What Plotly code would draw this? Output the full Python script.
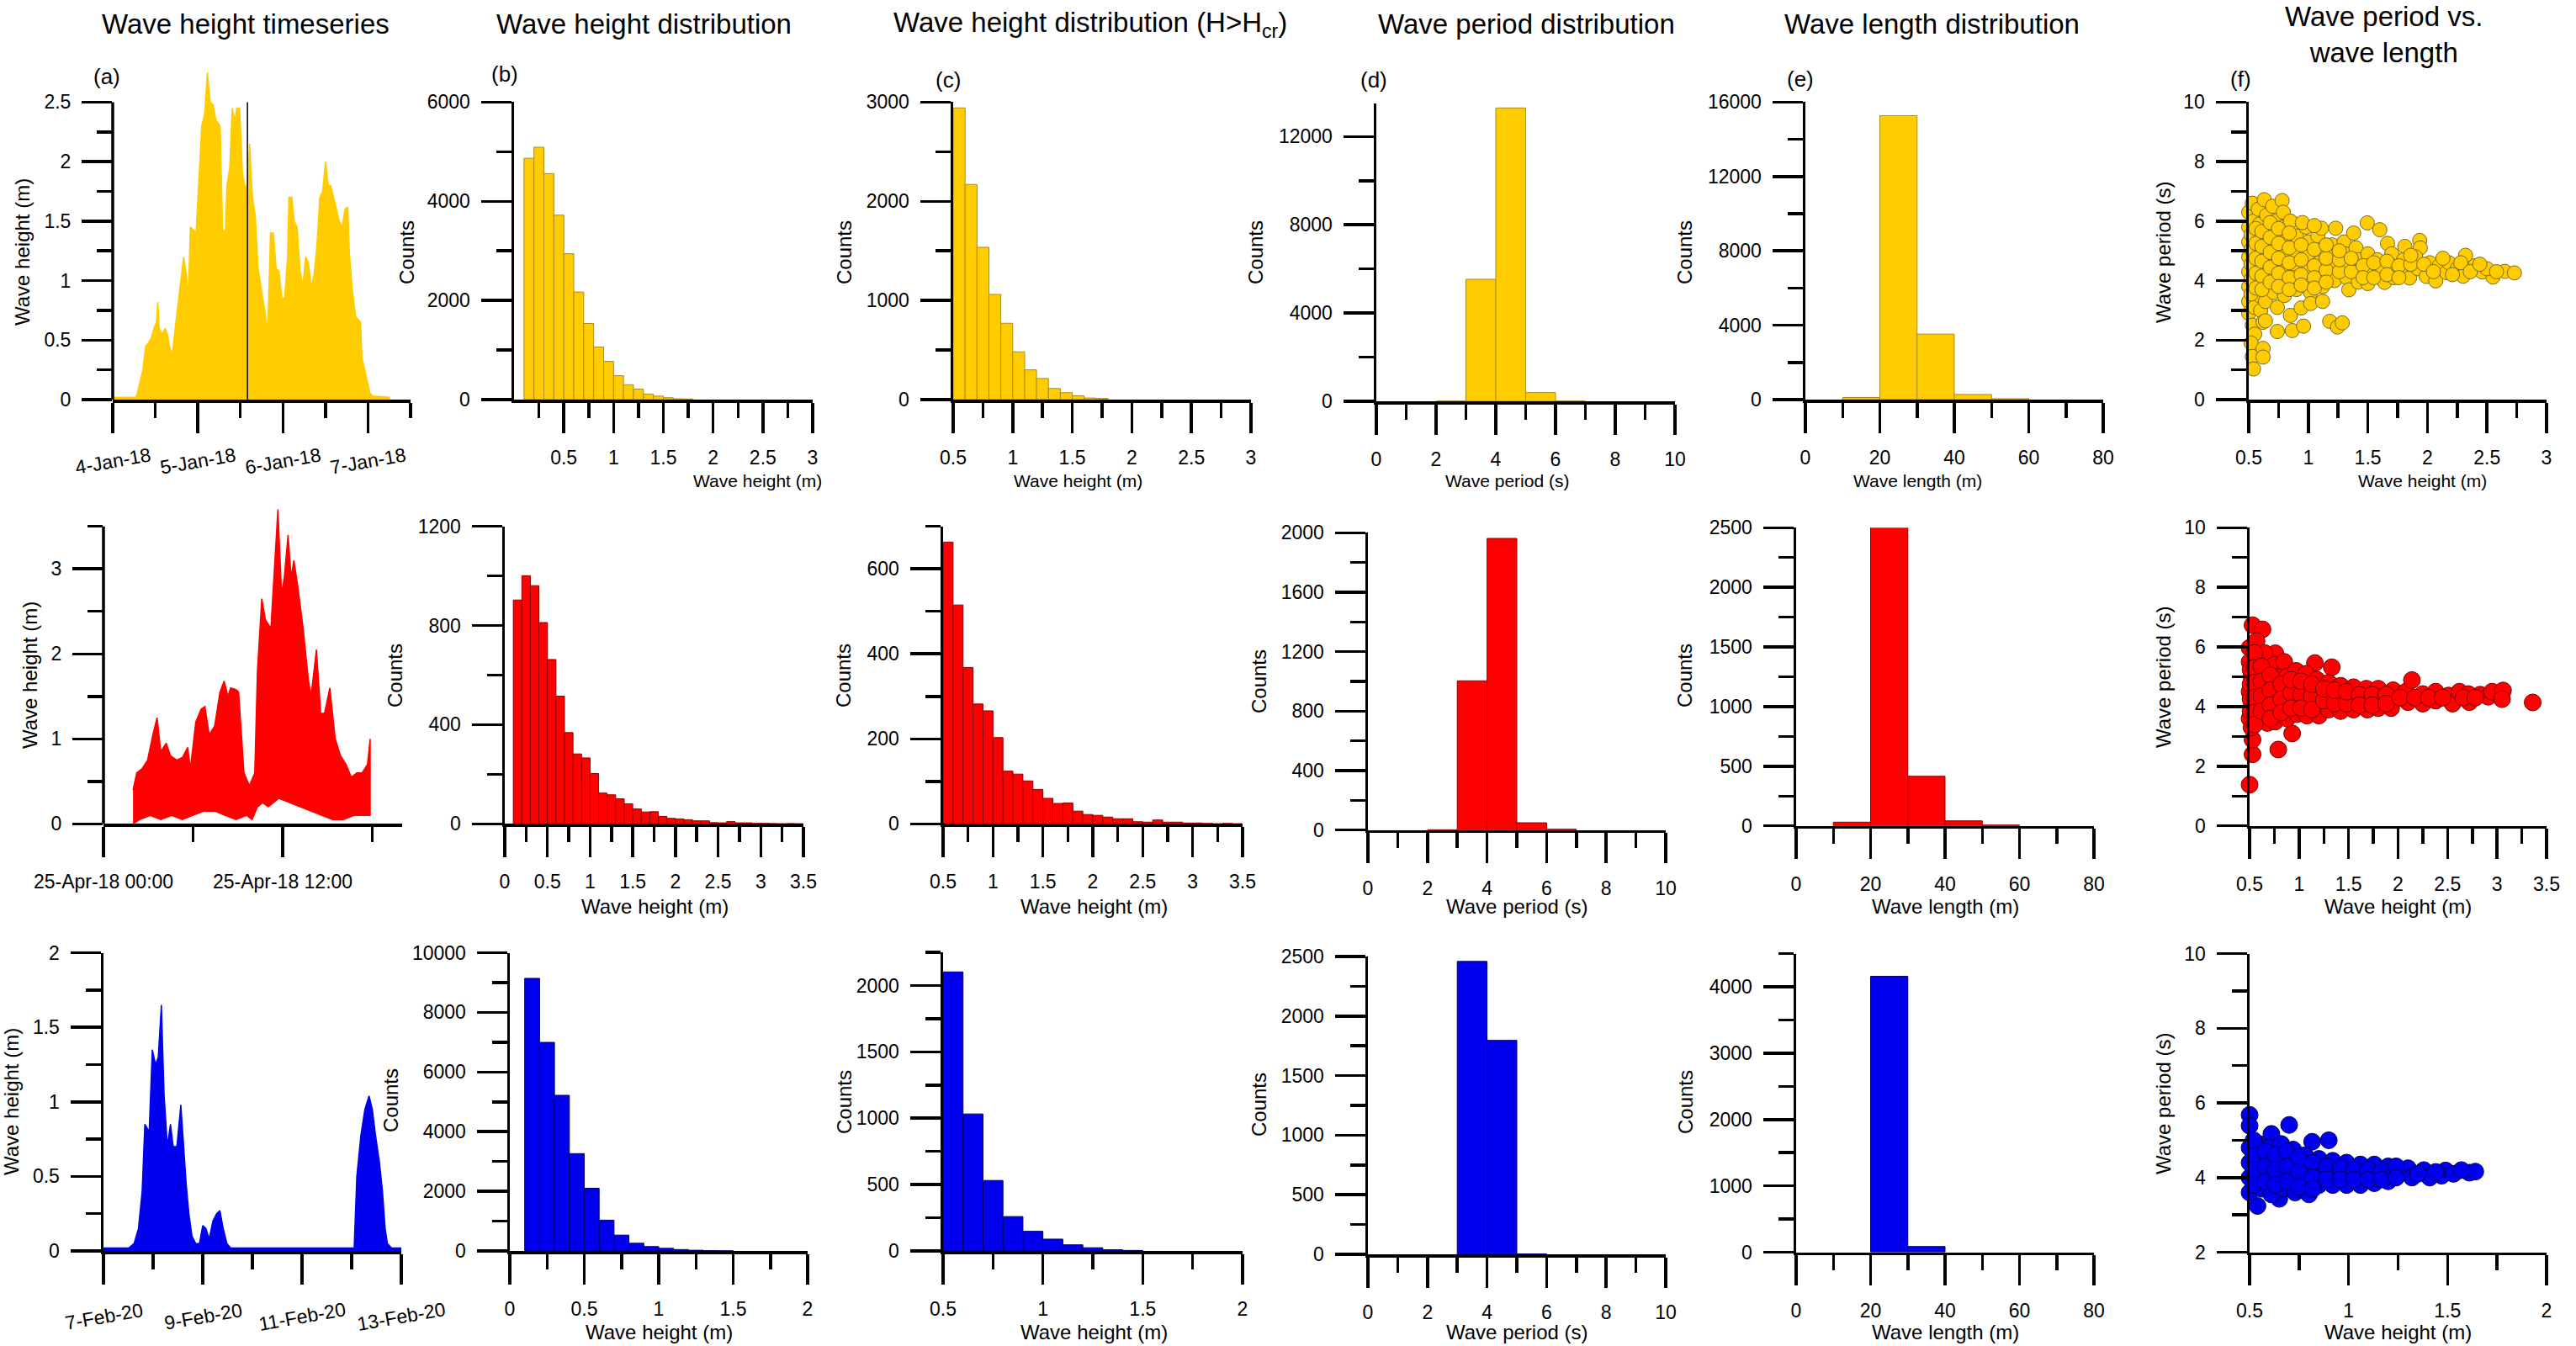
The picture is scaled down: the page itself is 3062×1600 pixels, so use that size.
import plotly.graph_objects as go
import pandas as pd

W, H = 3062, 1600
FONT = "Liberation Sans, Arial, Helvetica, sans-serif"
GOLD, GOLD_EDGE = "#FFCC00", "#A88C20"
RED, RED_EDGE = "#FF0000", "#8B0000"
BLUE, BLUE_EDGE = "#0000EE", "#000060"

# ---------------- Row 1 : January 2018 ----------------
ts1_start = "2018-01-04 00:00:00"
ts1_hours = [0, 6.5, 6.9, 7.7, 8.5, 9.3, 9.9, 10.9, 11.6, 12.3,
             12.7, 13.1, 14.0, 14.8, 15.4, 16.0, 16.8, 17.6, 18.4, 19.2,
             20.0, 20.8, 21.3, 21.9, 22.7, 23.5, 24.3, 25.1, 25.9, 26.7,
             27.5, 28.3, 29.1, 30.3, 31.0, 31.8, 32.2, 33.0, 33.7, 34.5,
             35.0, 35.8, 36.6, 37.4, 38.0, 38.6, 39.4, 40.2, 41.0, 42.1,
             42.9, 43.7, 44.1, 44.5, 45.3, 46.1, 46.9, 47.7, 48.5, 49.3,
             49.7, 50.5, 51.2, 52.0, 52.8, 53.6, 54.4, 55.2, 56.0, 56.8,
             57.6, 58.4, 59.2, 60.0, 60.8, 61.5, 62.3, 63.1, 63.9, 64.7,
             65.5, 66.3, 66.7, 67.5, 68.5, 69.9, 70.3, 71.1, 71.8, 72.6,
             73.4, 78.2]
ts1_height = [0.02, 0.02, 0.05, 0.15, 0.25, 0.45, 0.47, 0.52, 0.60, 0.65,
              0.82, 0.60, 0.55, 0.60, 0.55, 0.45, 0.38, 0.60, 0.80, 1.00,
              1.20, 1.05, 0.85, 1.45, 1.43, 1.40, 1.85, 2.30, 2.40, 2.75,
              2.50, 2.48, 2.35, 2.30, 1.42, 1.42, 1.80, 1.95, 2.45, 2.35,
              2.45, 2.45, 1.90, 1.78, 1.80, 2.15, 1.70, 1.55, 1.10, 0.90,
              0.75, 0.55, 0.90, 1.40, 1.40, 1.10, 1.08, 0.85, 0.85, 1.20,
              1.70, 1.70, 1.50, 1.45, 1.10, 0.95, 1.20, 1.15, 0.95, 1.05,
              1.30, 1.70, 1.75, 2.00, 1.80, 1.80, 1.70, 1.60, 1.50, 1.45,
              1.60, 1.62, 1.25, 0.95, 0.70, 0.65, 0.35, 0.25, 0.15, 0.05,
              0.03, 0.02]
ts1_marker_hour = 38.0
ts1_span_hours = 84
ts1_tick_days = [0, 1, 2, 3]

hist1_height_start, hist1_height_bin = 0.1, 0.1
hist1_height = [4867, 5091, 4558, 3721, 2942, 2170, 1536, 1061, 770, 482,
                300, 213, 112, 70, 38, 16, 12]
hist1_hcr_start = 0.5
hist1_hcr = [2942, 2170, 1536, 1061, 770, 482, 300, 213, 112, 70, 38, 16, 12]
hist1_period_start, hist1_period_bin = 2, 1
hist1_period = [10, 5531, 13297, 395, 10]
hist1_length_start, hist1_length_bin = 10, 10
hist1_length = [113, 15273, 3523, 275, 48]

f1_height = [0.50, 0.50, 0.50, 0.50, 0.50, 0.50, 0.50, 0.50,
             0.53, 0.54, 0.53, 0.54, 0.53, 0.54, 0.53, 0.55, 0.53, 0.55,
             0.52, 0.53, 0.54, 0.58, 0.59, 0.58, 0.60, 0.58, 0.60, 0.59,
             0.60, 0.62, 0.62, 0.62, 0.63, 0.65, 0.66, 0.65, 0.66, 0.65,
             0.66, 0.64, 0.64, 0.70, 0.72, 0.71, 0.72, 0.70, 0.72, 0.71,
             0.74, 0.74, 0.78, 0.79, 0.78, 0.80, 0.79, 0.80, 0.78, 0.80,
             0.85, 0.865, 0.88, 0.90, 0.89, 0.90, 0.88, 0.90, 0.94, 0.96,
             0.98, 1.00, 0.99, 1.00, 1.00, 1.02, 1.02, 1.08, 1.11, 1.10,
             1.09, 1.10, 1.12, 1.12, 1.18, 1.20, 1.23, 1.21, 1.20, 1.22,
             1.245, 1.285, 1.30, 1.31, 1.30, 1.32, 1.34, 1.38, 1.40, 1.42,
             1.40, 1.42, 1.495, 1.50, 1.51, 1.51, 1.50, 1.60, 1.58, 1.60,
             1.64, 1.665, 1.70, 1.70, 1.72, 1.81, 1.80, 1.79, 1.85, 1.935,
             1.94, 1.90, 1.92, 1.99, 2.07, 2.02, 2.10, 2.16, 2.18, 2.25,
             2.32, 2.32, 2.30, 2.40, 2.46, 2.55, 2.50, 2.65, 2.73,
             0.85, 0.95, 1.05,
             0.52, 0.52, 0.52, 0.52, 0.52, 0.56, 0.56, 0.56, 0.56, 0.56,
             0.61, 0.61, 0.61, 0.61, 0.61, 0.68, 0.68, 0.68, 0.68, 0.68,
             0.75, 0.75, 0.75, 0.75, 0.75, 0.84, 0.84, 0.84, 0.84, 0.84,
             0.94, 0.94, 0.94, 0.94, 1.05, 1.05, 1.05, 1.05, 1.15, 1.15,
             1.15, 1.15, 1.26, 1.26, 1.26, 1.36, 1.36, 1.46, 1.46, 1.55,
             1.55, 1.66, 1.66, 1.76, 1.76, 1.86, 1.86, 1.97, 2.05, 2.13,
             2.21, 2.28, 2.36, 2.44, 2.58]
f1_period = [6.3, 5.8, 5.3, 4.8, 4.3, 3.8, 3.3, 2.9,
             6.6, 6.0, 5.5, 5.0, 4.5, 4.0, 3.6, 3.1, 2.5, 2.2,
             1.9, 1.45, 1.03, 6.4, 5.9, 5.4, 4.9, 4.4, 3.9, 3.5,
             3.0, 2.6, 1.72, 1.43, 6.72, 6.2, 5.7, 5.2, 4.7, 4.2,
             3.7, 3.3, 2.65, 6.5, 6.0, 5.5, 5.0, 4.5, 4.0, 3.6,
             3.1, 2.29, 6.69, 6.3, 5.8, 5.3, 4.8, 4.3, 3.9, 3.5,
             2.83, 2.32, 5.9, 5.5, 5.0, 4.5, 4.1, 3.7, 3.08, 2.47,
             5.8, 5.3, 4.8, 4.4, 3.99, 3.6, 3.23, 5.5, 5.76, 5.0,
             4.6, 4.2, 3.8, 3.3, 2.63, 5.2, 5.76, 4.8, 4.4, 4.0,
             2.44, 2.58, 5.3, 4.9, 4.5, 4.1, 3.69, 5.6, 5.1, 4.7,
             4.3, 3.95, 5.94, 4.9, 4.5, 4.22, 3.9, 5.71, 4.7, 4.35,
             3.94, 5.25, 4.9, 4.5, 4.1, 5.15, 4.7, 4.3, 4.09, 5.35,
             5.1, 4.8, 4.4, 4.14, 3.99, 4.6, 4.5, 4.27, 4.6, 4.4,
             4.85, 4.41, 4.15, 4.5, 4.29, 4.12, 4.4, 4.31, 4.26,
             6.0, 5.95, 5.85,
             5.55, 5.05, 4.55, 4.05, 3.55, 4.25, 4.75, 5.25, 5.75, 3.75,
             4.65, 4.15, 5.15, 5.65, 3.70, 4.45, 3.95, 4.95, 5.45, 5.95,
             4.25, 4.75, 5.25, 5.75, 3.80, 4.60, 4.10, 5.10, 5.60, 3.70,
             4.20, 4.70, 5.20, 3.85, 4.50, 4.10, 5.05, 3.75, 4.35, 4.75,
             5.20, 3.95, 4.30, 4.70, 5.00, 4.30, 4.75, 4.50, 4.10, 4.60,
             4.10, 4.65, 4.20, 4.50, 4.10, 4.55, 4.85, 4.55, 4.30, 4.75,
             4.20, 4.60, 4.30, 4.55, 4.30]

# ---------------- Row 2 : April 2018 ----------------
ts2_start = "2018-04-25 00:00:00"
ts2_upper_hours = [1.98, 2.23, 2.59, 2.95, 3.31, 3.59, 3.84, 4.20, 4.49, 4.92,
                   5.28, 5.64, 5.82, 6.18, 6.54, 6.79, 7.08, 7.44, 7.80, 8.08,
                   8.34, 8.51, 8.87, 9.05, 9.41, 9.77, 10.13, 10.31, 10.60, 10.85,
                   11.21, 11.46, 11.68, 11.93, 12.11, 12.36, 12.57, 12.75, 13.01, 13.37,
                   13.72, 13.90, 14.26, 14.55, 14.80, 15.16, 15.52, 15.88, 16.24, 16.60,
                   16.96, 17.32, 17.68, 17.86]
ts2_upper = [0.40, 0.60, 0.65, 0.75, 1.05, 1.25, 0.85, 0.95, 0.80, 0.75,
             0.78, 0.90, 0.65, 1.20, 1.35, 1.38, 1.05, 1.15, 1.55, 1.68,
             1.50, 1.60, 1.58, 1.55, 0.60, 0.45, 0.60, 1.80, 2.65, 2.40,
             2.30, 3.10, 3.70, 2.70, 2.90, 3.40, 2.90, 3.10, 2.80, 2.30,
             1.70, 1.50, 2.05, 1.30, 1.30, 1.60, 1.00, 0.80, 0.70, 0.55,
             0.60, 0.60, 0.70, 1.00]
ts2_lower_hours = [1.98, 2.41, 3.13, 3.84, 4.56, 5.28, 6.00, 6.72, 7.44, 8.16,
                   8.87, 9.59, 9.95, 10.31, 10.67, 11.03, 11.75, 12.47, 13.19, 13.90,
                   14.62, 15.34, 16.06, 16.78, 17.86]
ts2_lower = [0.00, 0.05, 0.10, 0.05, 0.10, 0.05, 0.10, 0.15, 0.15, 0.10,
             0.05, 0.10, 0.05, 0.20, 0.25, 0.20, 0.30, 0.25, 0.20, 0.15,
             0.10, 0.05, 0.05, 0.10, 0.10]
ts2_span_hours = 20

hist2_height_start = 0.1
hist2_height = [903, 1001, 961, 812, 663, 515, 368, 282, 266, 203,
                124, 117, 101, 81, 60, 48, 49, 30, 22, 20,
                16, 12, 12, 5, 4, 9, 4, 4, 2, 2, 1, 0, 1, 0]
hist2_hcr_start = 0.5
hist2_hcr = [663, 515, 368, 282, 266, 203, 124, 117, 101, 81,
             60, 48, 49, 30, 22, 20, 16, 12, 12, 5,
             4, 9, 4, 4, 2, 2, 1, 0, 1, 0]
hist2_period_start = 2
hist2_period = [2, 1004, 1962, 49, 6]
hist2_length_start = 10
hist2_length = [31, 2540, 416, 42, 7]

f2_height = [0.50, 0.53, 0.53, 0.79, 0.93, 0.53, 0.63, 0.50, 0.76, 1.16,
             1.33, 0.50, 0.52, 0.50, 0.52, 0.50, 0.52, 0.57, 0.58, 0.60,
             0.58, 0.60, 0.58, 0.65, 0.68, 0.67, 0.68, 0.66, 0.68, 0.75,
             0.78, 0.77, 0.78, 0.76, 0.85, 0.88, 0.86, 0.87, 0.88, 0.97,
             0.98, 0.97, 0.98, 1.07, 1.08, 1.07, 1.08, 1.18, 1.20, 1.18,
             1.20, 1.30, 1.31, 1.30, 1.42, 1.43, 1.42, 1.55, 1.55, 1.55,
             1.68, 1.68, 1.69, 1.80, 1.82, 1.80, 1.95, 1.95, 1.93, 2.08,
             2.10, 2.14, 2.25, 2.25, 2.38, 2.38, 2.51, 2.55, 2.62, 2.71,
             2.72, 2.83, 2.91, 2.95, 3.06, 3.05, 3.36, 3.68,
             0.51, 0.51, 0.51, 0.51, 0.55, 0.55, 0.55, 0.55, 0.55, 0.55,
             0.62, 0.62, 0.62, 0.62, 0.71, 0.71, 0.71, 0.71, 0.82, 0.82,
             0.82, 0.92, 0.92, 0.92, 1.02, 1.02, 1.02, 1.13, 1.13, 1.13,
             1.25, 1.25, 1.36, 1.36, 1.48, 1.48, 1.61, 1.61, 1.74, 1.74,
             1.88, 1.88, 2.02, 2.17, 2.31, 2.45, 2.66, 2.78]
f2_period = [1.38, 2.40, 2.89, 2.56, 3.10, 6.73, 6.59, 5.97, 5.79, 5.46,
             5.32, 5.50, 5.00, 4.50, 4.00, 3.60, 3.30, 6.20, 5.60, 5.10,
             4.60, 4.10, 3.60, 5.80, 5.30, 4.80, 4.30, 3.90, 3.45, 5.40,
             5.00, 4.50, 4.00, 3.50, 5.50, 5.00, 4.50, 4.00, 3.60, 5.20,
             4.70, 4.20, 3.75, 5.10, 4.60, 4.15, 3.70, 4.90, 4.45, 4.00,
             3.70, 4.80, 4.35, 3.90, 4.70, 4.30, 3.85, 4.65, 4.25, 3.90,
             4.60, 4.20, 3.90, 4.60, 4.25, 3.95, 4.55, 4.20, 3.95, 4.50,
             4.15, 4.89, 4.42, 4.10, 4.50, 4.20, 4.37, 4.10, 4.50, 4.42,
             4.15, 4.40, 4.33, 4.50, 4.54, 4.25, 4.14, 4.42,
             4.75, 4.25, 3.85, 5.25, 5.80, 5.30, 4.80, 4.30, 3.80, 3.40,
             5.35, 4.85, 4.35, 3.85, 5.05, 4.55, 4.05, 3.60, 4.75, 4.25,
             3.80, 4.45, 3.95, 4.90, 4.40, 3.95, 4.85, 4.35, 3.90, 4.75,
             4.20, 4.60, 4.10, 4.55, 4.10, 4.50, 4.40, 4.05, 4.40, 4.05,
             4.40, 4.10, 4.30, 4.30, 4.30, 4.30, 4.30, 4.30]

# ---------------- Row 3 : February 2020 ----------------
ts3_start = "2020-02-07 00:00:00"
ts3_hours = [0, 12.2, 14.8, 16.9, 18.7, 20.0, 22.1, 23.6, 25.2, 26.5,
             28.0, 29.3, 30.9, 32.4, 33.7, 35.5, 37.4, 38.9, 40.0, 41.3,
             42.8, 44.6, 46.4, 48.0, 49.6, 51.1, 52.9, 54.7, 56.3, 57.9,
             59.7, 61.5, 79.7, 95.2, 121.2, 122.5, 124.5, 126.4, 128.4, 130.0,
             131.5, 133.4, 134.9, 136.2, 137.3, 139.3, 144.0]
ts3_height = [0.02, 0.02, 0.05, 0.15, 0.40, 0.85, 0.80, 1.35, 1.25, 1.30,
              1.65, 1.05, 0.70, 0.85, 0.70, 0.70, 0.98, 0.65, 0.45, 0.25,
              0.10, 0.05, 0.05, 0.17, 0.15, 0.08, 0.20, 0.25, 0.27, 0.15,
              0.05, 0.02, 0.02, 0.02, 0.02, 0.50, 0.78, 0.95, 1.04, 0.95,
              0.78, 0.60, 0.40, 0.15, 0.05, 0.02, 0.02]
ts3_span_hours = 144
ts3_tick_days = [0, 2, 4, 6]

hist3_height_start = 0.1
hist3_height = [9141, 6994, 5219, 3263, 2102, 1032, 531, 259, 148, 89, 46, 24, 9, 4]
hist3_hcr_start = 0.5
hist3_hcr = [2102, 1032, 531, 259, 148, 89, 46, 24, 9, 4]
hist3_period_start = 3
hist3_period = [2459, 1796, 3]
hist3_length_start = 20
hist3_length = [4158, 86]

f3_height = [0.50, 0.50, 0.70, 0.61, 0.816, 0.90, 0.54, 0.65, 0.50, 0.50,
             0.50, 0.50, 0.55, 0.56, 0.55, 0.56, 0.60, 0.61, 0.60, 0.61,
             0.66, 0.67, 0.66, 0.67, 0.72, 0.73, 0.72, 0.73, 0.78, 0.79,
             0.78, 0.80, 0.85, 0.86, 0.85, 0.92, 0.93, 0.92, 0.99, 1.00,
             0.99, 1.06, 1.07, 1.06, 1.13, 1.14, 1.13, 1.20, 1.21, 1.20,
             1.25, 1.30, 1.32, 1.38, 1.41, 1.49, 1.47, 1.61, 1.64,
             0.52, 0.52, 0.52, 0.52, 0.58, 0.58, 0.58, 0.63, 0.63, 0.63,
             0.69, 0.69, 0.69, 0.75, 0.75, 0.75, 0.82, 0.82, 0.82, 0.89,
             0.89, 0.96, 0.96, 1.03, 1.03, 1.10, 1.10, 1.17, 1.17, 1.24,
             1.24, 1.35, 1.44, 1.53, 1.57]
f3_period = [5.68, 5.39, 5.41, 5.17, 4.96, 5.00, 3.24, 3.43, 4.80, 4.40,
             4.00, 3.60, 4.90, 4.50, 4.10, 3.70, 4.80, 4.35, 3.95, 3.55,
             4.90, 4.50, 4.10, 3.70, 4.75, 4.35, 3.95, 3.60, 4.60, 4.20,
             3.85, 3.55, 4.50, 4.15, 3.80, 4.45, 4.10, 3.80, 4.40, 4.05,
             3.80, 4.35, 4.05, 3.80, 4.35, 4.05, 3.85, 4.30, 4.05, 3.90,
             4.16, 4.25, 4.00, 4.20, 4.00, 4.19, 4.05, 4.13, 4.16,
             4.60, 4.20, 3.80, 5.00, 4.70, 4.30, 3.90, 4.60, 4.20, 3.80,
             4.70, 4.30, 3.90, 4.55, 4.15, 3.75, 4.40, 4.00, 3.70, 4.30,
             3.95, 4.25, 3.95, 4.20, 3.95, 4.20, 3.95, 4.20, 3.95, 4.30,
             4.00, 4.10, 4.15, 4.10, 4.20]

col_titles = ["Wave height timeseries", "Wave height distribution",
              "Wave height distribution (H&gt;H<sub>cr</sub>)", "Wave period distribution",
              "Wave length distribution", "Wave period vs.<br>wave length"]
panel_tags = ["(a)", "(b)", "(c)", "(d)", "(e)", "(f)"]
y_titles = ["Wave height (m)", "Counts", "Counts", "Counts", "Counts", "Wave period (s)"]
x_titles = ["Wave height (m)", "Wave height (m)", "Wave period (s)", "Wave length (m)", "Wave height (m)"]

# ---------------- helpers ----------------
def hours_to_dates(start, hours):
    return list(pd.Timestamp(start) + pd.to_timedelta(hours, unit="h"))

def edges(start, width, n):
    return [start + i * width for i in range(n)]

def ref(i):
    return ("x" if i == 1 else f"x{i}"), ("y" if i == 1 else f"y{i}")

fig = go.Figure()

def add_bar(i, start, width, counts, color, edge):
    xr, yr = ref(i)
    fig.add_trace(go.Bar(x=edges(start, width, len(counts)), y=counts, width=width, offset=0,
                         marker=dict(color=color, line=dict(color=edge, width=1)),
                         xaxis=xr, yaxis=yr, showlegend=False))

def add_scatter(i, xs, ys, color, edge, size):
    xr, yr = ref(i)
    fig.add_trace(go.Scatter(x=xs, y=ys, mode="markers", cliponaxis=False,
                             marker=dict(size=size, color=color, line=dict(color=edge, width=1)),
                             xaxis=xr, yaxis=yr, showlegend=False))

# time series
xr, yr = ref(1)
fig.add_trace(go.Scatter(x=hours_to_dates(ts1_start, ts1_hours), y=ts1_height, mode="lines",
                         fill="tozeroy", fillcolor=GOLD, line=dict(color=GOLD, width=1.5),
                         xaxis=xr, yaxis=yr, showlegend=False))
fig.add_trace(go.Scatter(x=hours_to_dates(ts1_start, [ts1_marker_hour, ts1_marker_hour]), y=[0, 2.5],
                         mode="lines", line=dict(color="black", width=1.5),
                         xaxis=xr, yaxis=yr, showlegend=False))

xr, yr = ref(7)
poly_t = hours_to_dates(ts2_start, ts2_upper_hours + ts2_lower_hours[::-1])
poly_v = ts2_upper + ts2_lower[::-1]
fig.add_trace(go.Scatter(x=poly_t, y=poly_v, mode="lines", fill="toself", fillcolor=RED,
                         line=dict(color=RED, width=1.5), xaxis=xr, yaxis=yr, showlegend=False))

xr, yr = ref(13)
fig.add_trace(go.Scatter(x=hours_to_dates(ts3_start, ts3_hours), y=ts3_height, mode="lines",
                         fill="tozeroy", fillcolor=BLUE, line=dict(color=BLUE, width=1.5),
                         xaxis=xr, yaxis=yr, showlegend=False))

# histograms
add_bar(2, hist1_height_start, hist1_height_bin, hist1_height, GOLD, GOLD_EDGE)
add_bar(3, hist1_hcr_start, hist1_height_bin, hist1_hcr, GOLD, GOLD_EDGE)
add_bar(4, hist1_period_start, hist1_period_bin, hist1_period, GOLD, GOLD_EDGE)
add_bar(5, hist1_length_start, hist1_length_bin, hist1_length, GOLD, GOLD_EDGE)
add_bar(8, hist2_height_start, hist1_height_bin, hist2_height, RED, RED_EDGE)
add_bar(9, hist2_hcr_start, hist1_height_bin, hist2_hcr, RED, RED_EDGE)
add_bar(10, hist2_period_start, hist1_period_bin, hist2_period, RED, RED_EDGE)
add_bar(11, hist2_length_start, hist1_length_bin, hist2_length, RED, RED_EDGE)
add_bar(14, hist3_height_start, hist1_height_bin, hist3_height, BLUE, BLUE_EDGE)
add_bar(15, hist3_hcr_start, hist1_height_bin, hist3_hcr, BLUE, BLUE_EDGE)
add_bar(16, hist3_period_start, hist1_period_bin, hist3_period, BLUE, BLUE_EDGE)
add_bar(17, hist3_length_start, hist1_length_bin, hist3_length, BLUE, BLUE_EDGE)

add_scatter(6, f1_height, f1_period, GOLD, "#7A6A20", 17)
add_scatter(12, f2_height, f2_period, RED, "#700000", 20)
add_scatter(18, f3_height, f3_period, BLUE, "#000050", 20)

# ---------------- axes ----------------
boxes = {
    1: (134, 488, 79.0, 475.0), 2: (611, 966, 121.4, 475.0), 3: (1133, 1487, 121.4, 475.0),
    4: (1636, 1991, 123.0, 477.0), 5: (2146, 2500, 121.4, 475.0), 6: (2673, 3027, 121.4, 475.0),
    7: (123, 478, 595.4, 979.3), 8: (600, 955, 625.7, 979.3), 9: (1121, 1477, 625.7, 979.3),
    10: (1626, 1980, 633.3, 986.7), 11: (2135, 2489, 627.3, 981.7), 12: (2674, 3027, 627.3, 981.7),
    13: (123, 477, 1132.5, 1487.0), 14: (606, 960, 1132.5, 1487.0), 15: (1121, 1477, 1132.0, 1487.0),
    16: (1626, 1980, 1137.0, 1491.0), 17: (2135, 2489, 1133.6, 1488.5), 18: (2674, 3027, 1133.6, 1488.5),
}

DAY = 86400000
HOUR = 3600000
def end_of(start, hours):
    return str(pd.Timestamp(start) + pd.Timedelta(hours=hours))

xspec = {
    1: dict(type="date", range=[ts1_start, end_of(ts1_start, ts1_span_hours)], dtick=DAY, tick0=ts1_start,
            showticklabels=False, minor=dict(dtick=DAY / 2, tick0=ts1_start)),
    2: dict(range=[0, 3], tickvals=[0.5, 1, 1.5, 2, 2.5, 3],
            minor=dict(tickvals=[0.25, 0.75, 1.25, 1.75, 2.25, 2.75])),
    3: dict(range=[0.5, 3], dtick=0.5, tick0=0, minor=dict(dtick=0.25, tick0=0)),
    4: dict(range=[0, 10], dtick=2, tick0=0, minor=dict(dtick=1, tick0=0)),
    5: dict(range=[0, 80], dtick=20, tick0=0, minor=dict(dtick=10, tick0=0)),
    6: dict(range=[0.5, 3], dtick=0.5, tick0=0, minor=dict(dtick=0.25, tick0=0)),
    7: dict(type="date", range=[ts2_start, end_of(ts2_start, ts2_span_hours)], dtick=12 * HOUR, tick0=ts2_start,
            tickformat="%d-%b-%y %H:%M", minor=dict(dtick=6 * HOUR, tick0=ts2_start)),
    8: dict(range=[0, 3.5], dtick=0.5, tick0=0, minor=dict(dtick=0.25, tick0=0)),
    9: dict(range=[0.5, 3.5], dtick=0.5, tick0=0, minor=dict(dtick=0.25, tick0=0)),
    10: dict(range=[0, 10], dtick=2, tick0=0, minor=dict(dtick=1, tick0=0)),
    11: dict(range=[0, 80], dtick=20, tick0=0, minor=dict(dtick=10, tick0=0)),
    12: dict(range=[0.5, 3.5], dtick=0.5, tick0=0, minor=dict(dtick=0.25, tick0=0)),
    13: dict(type="date", range=[ts3_start, end_of(ts3_start, ts3_span_hours)], dtick=2 * DAY, tick0=ts3_start,
             showticklabels=False, minor=dict(dtick=DAY, tick0=ts3_start)),
    14: dict(range=[0, 2], dtick=0.5, tick0=0, minor=dict(dtick=0.25, tick0=0)),
    15: dict(range=[0.5, 2], dtick=0.5, tick0=0, minor=dict(dtick=0.25, tick0=0)),
    16: dict(range=[0, 10], dtick=2, tick0=0, minor=dict(dtick=1, tick0=0)),
    17: dict(range=[0, 80], dtick=20, tick0=0, minor=dict(dtick=10, tick0=0)),
    18: dict(range=[0.5, 2], dtick=0.5, tick0=0, minor=dict(dtick=0.25, tick0=0)),
}
yspec = {
    1: dict(range=[0, 2.8], dtick=0.5, tick0=0, showline=False,
            minor=dict(tickvals=[0.25, 0.75, 1.25, 1.75, 2.25])),
    2: dict(range=[0, 6000], dtick=2000, tick0=0, tickformat="d", minor=dict(dtick=1000, tick0=0)),
    3: dict(range=[0, 3000], dtick=1000, tick0=0, tickformat="d", minor=dict(dtick=500, tick0=0)),
    4: dict(range=[0, 13500], dtick=4000, tick0=0, tickformat="d", minor=dict(dtick=2000, tick0=0)),
    5: dict(range=[0, 16000], dtick=4000, tick0=0, tickformat="d", minor=dict(dtick=2000, tick0=0)),
    6: dict(range=[0, 10], dtick=2, tick0=0, minor=dict(dtick=1, tick0=0)),
    7: dict(range=[0, 3.8], dtick=1, tick0=0, showline=False, minor=dict(tickvals=[0.5, 1.5, 2.5, 3.5])),
    8: dict(range=[0, 1200], dtick=400, tick0=0, tickformat="d", minor=dict(dtick=200, tick0=0)),
    9: dict(range=[0, 700], dtick=200, tick0=0, tickformat="d", minor=dict(dtick=100, tick0=0)),
    10: dict(range=[0, 2000], dtick=400, tick0=0, tickformat="d", minor=dict(dtick=200, tick0=0)),
    11: dict(range=[0, 2500], dtick=500, tick0=0, tickformat="d", minor=dict(dtick=250, tick0=0)),
    12: dict(range=[0, 10], dtick=2, tick0=0, minor=dict(dtick=1, tick0=0)),
    13: dict(range=[0, 2], dtick=0.5, tick0=0, minor=dict(dtick=0.25, tick0=0)),
    14: dict(range=[0, 10000], dtick=2000, tick0=0, tickformat="d", minor=dict(dtick=1000, tick0=0)),
    15: dict(range=[0, 2250], dtick=500, tick0=0, tickformat="d", minor=dict(dtick=250, tick0=0)),
    16: dict(range=[0, 2500], dtick=500, tick0=0, tickformat="d", minor=dict(dtick=250, tick0=0)),
    17: dict(range=[0, 4500], dtick=1000, tick0=0, tickformat="d", minor=dict(dtick=500, tick0=0)),
    18: dict(range=[2, 10], dtick=2, tick0=0, minor=dict(dtick=1, tick0=0)),
}

LW = 3.5
def base_axis():
    return dict(showline=True, linecolor="black", linewidth=LW, ticks="outside", ticklen=36,
                tickwidth=LW, tickcolor="black", showgrid=False, zeroline=False, fixedrange=True,
                automargin=False, tickfont=dict(family=FONT, size=23, color="black"))

layout_axes = {}
for i, (l, r, t, b) in boxes.items():
    xa = base_axis()
    xa.update(domain=[l / W, r / W], anchor=ref(i)[1], ticklabelstandoff=10)
    spec = dict(xspec[i])
    mn = dict(ticks="outside", ticklen=18, tickwidth=LW, tickcolor="black", showgrid=False)
    mn.update(spec.pop("minor"))
    xa.update(spec)
    xa["minor"] = mn
    ya = base_axis()
    ya.update(domain=[1 - b / H, 1 - t / H], anchor=ref(i)[0], ticklabelstandoff=8)
    spec = dict(yspec[i])
    mn = dict(ticks="outside", ticklen=18, tickwidth=LW, tickcolor="black", showgrid=False)
    mn.update(spec.pop("minor"))
    ya.update(spec)
    ya["minor"] = mn
    layout_axes["xaxis" if i == 1 else f"xaxis{i}"] = xa
    layout_axes["yaxis" if i == 1 else f"yaxis{i}"] = ya

shapes = [
    dict(type="line", xref="paper", yref="y", x0=134 / W, x1=134 / W, y0=0, y1=2.5,
         line=dict(color="black", width=LW)),
    dict(type="line", xref="paper", yref="y7", x0=123 / W, x1=123 / W, y0=0, y1=3.5,
         line=dict(color="black", width=LW)),
]

# ---------------- annotations ----------------
def ann(text, x, y, size, angle=0):
    return dict(text=text, x=x / W, y=1 - y / H, xref="paper", yref="paper", showarrow=False,
                font=dict(family=FONT, size=size, color="black"), textangle=angle,
                xanchor="center", yanchor="middle")

def date_label(start, day, xref, ypx):
    d = pd.Timestamp(start) + pd.Timedelta(days=day)
    return dict(text=f"{d.day}-{d.strftime('%b-%y')}", x=str(d), y=1 - ypx / H, xref=xref, yref="paper",
                showarrow=False, textangle=-10, xanchor="center", yanchor="middle",
                font=dict(family=FONT, size=23, color="black"))

annotations = []
for txt, x, y in zip(col_titles, [292, 765, 1296, 1814, 2296, 2833], [29, 29, 29, 29, 29, 41]):
    annotations.append(ann(txt, x, y, 33))
for txt, x, y in zip(panel_tags, [127, 600, 1127, 1633, 2140, 2663], [91, 88, 95, 95, 94, 94]):
    annotations.append(ann(txt, x, y, 26))
ytitle_x = [[26, 483, 1003, 1492, 2002, 2571], [36, 470, 1003, 1496, 2003, 2571], [13, 464, 1003, 1496, 2003, 2571]]
ytitle_y = [[300] * 6, [803, 803, 803, 810, 803, 805], [1310, 1308, 1310, 1313, 1310, 1312]]
for row in range(3):
    for txt, x, y in zip(y_titles, ytitle_x[row], ytitle_y[row]):
        annotations.append(ann(txt, x, y, 24, -90))
xtitle_x = [[900, 1281, 1791, 2279, 2879], [778, 1300, 1803, 2312, 2850], [783, 1300, 1803, 2312, 2850]]
xtitle_y = [572, 1077, 1583]
xtitle_size = [21, 24, 24]
for row in range(3):
    for txt, x in zip(x_titles, xtitle_x[row]):
        annotations.append(ann(txt, x, xtitle_y[row], xtitle_size[row]))
for dd in ts1_tick_days:
    annotations.append(date_label(ts1_start, dd, "x", 548))
for dd in ts3_tick_days:
    annotations.append(date_label(ts3_start, dd, "x13", 1565))

fig.update_layout(width=W, height=H, margin=dict(l=0, r=0, t=0, b=0, pad=0, autoexpand=False),
                  paper_bgcolor="white", plot_bgcolor="white", showlegend=False,
                  font=dict(family=FONT, color="black"), bargap=0,
                  shapes=shapes, annotations=annotations, **layout_axes)

fig.write_html("out.html", config={"displayModeBar": False, "staticPlot": True},
               post_script="document.body.style.margin='0';document.body.style.overflow='hidden';")
